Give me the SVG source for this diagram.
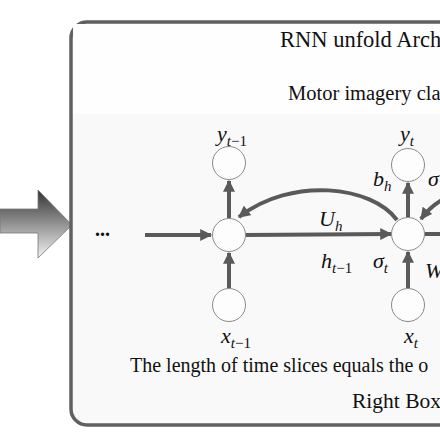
<svg xmlns="http://www.w3.org/2000/svg" width="440" height="440" viewBox="0 0 440 440">
<style>
.t{font-family:"Liberation Serif",serif;fill:#111;}
.m{font-family:"Liberation Serif",serif;font-style:italic;fill:#111;}
.s{font-size:15px;}
.n{fill:#fdfdfd;stroke:#8a8a8a;stroke-width:1;}
.c{fill:none;stroke:#5a5a5a;stroke-width:4;}
</style>
<defs>
<linearGradient id="bg" gradientUnits="userSpaceOnUse" x1="0" y1="190" x2="0" y2="258">
<stop offset="0" stop-color="#333"/>
<stop offset="1" stop-color="#f2f2f2"/>
</linearGradient>
<marker id="ah" viewBox="0 0 10 10" refX="9" refY="5" markerWidth="3.2" markerHeight="3" orient="auto" markerUnits="strokeWidth">
<path d="M0,0 L10,5 L0,10 Z" fill="#5a5a5a"/>
</marker>
</defs>
<rect width="440" height="440" fill="#fff"/>
<g id="bigarrow">
<polygon points="0,209 38,209 38,190 72,225 38,258 38,233 0,233" fill="url(#bg)" stroke="#777" stroke-width="0.8"/>
</g>
<g id="box">
<rect x="71" y="22" width="420" height="403" rx="16" fill="#f9f9f9" stroke="#606060" stroke-width="3.5"/>
<rect x="73" y="24" width="367" height="90" fill="#fefefe"/>
</g>
<g id="titles">
<text class="t" x="280" y="47" font-size="22.5">RNN unfold Arch</text>
<text class="t" x="288" y="100" font-size="20.5">Motor imagery cla</text>
<text class="t" x="130" y="372" font-size="20">The length of time slices equals the o</text>
<text class="t" x="352" y="408" font-size="21.5">Right Box</text>
<text class="t" x="95" y="236" font-size="20" font-weight="bold">...</text>
</g>
<g id="connectors">
<line class="c" x1="145" y1="235" x2="211" y2="235" marker-end="url(#ah)"/>
<line class="c" x1="246" y1="235" x2="391" y2="234" marker-end="url(#ah)"/>
<line class="c" x1="229" y1="288" x2="229" y2="253" marker-end="url(#ah)"/>
<line class="c" x1="229" y1="218" x2="229" y2="181" marker-end="url(#ah)"/>
<line class="c" x1="408" y1="288" x2="408" y2="252" marker-end="url(#ah)"/>
<line class="c" x1="408" y1="217" x2="408" y2="183" marker-end="url(#ah)"/>
<path class="c" d="M397,220 C372,186 292,176 239,217" marker-end="url(#ah)"/>
<path class="c" d="M442,200 Q430,207 421,219" marker-end="url(#ah)"/>
<line class="c" x1="425" y1="234" x2="442" y2="234"/>
</g>
<g id="node-y-prev"><circle class="n" cx="229" cy="163" r="16.5"/></g>
<g id="node-h-prev"><circle class="n" cx="229" cy="235" r="16.5"/></g>
<g id="node-x-prev"><circle class="n" cx="229" cy="305" r="16.5"/></g>
<g id="node-y"><circle class="n" cx="408" cy="165" r="16.5"/></g>
<g id="node-h"><circle class="n" cx="408" cy="234" r="16.5"/></g>
<g id="node-x"><circle class="n" cx="408" cy="305" r="16.5"/></g>
<g id="labels">
<text class="m" x="217" y="141" font-size="22">y<tspan class="s" dy="5">t</tspan><tspan class="s" font-style="normal">−1</tspan></text>
<text class="m" x="400" y="141" font-size="22">y<tspan class="s" dy="5">t</tspan></text>
<text class="m" x="221" y="343" font-size="22">x<tspan class="s" dy="5">t</tspan><tspan class="s" font-style="normal">−1</tspan></text>
<text class="m" x="404" y="343" font-size="22">x<tspan class="s" dy="5">t</tspan></text>
<text class="m" x="319" y="226" font-size="22">U<tspan class="s" dy="5">h</tspan></text>
<text class="m" x="321" y="268" font-size="22">h<tspan class="s" dy="5">t</tspan><tspan class="s" font-style="normal">−1</tspan></text>
<text class="m" x="373" y="268" font-size="22">σ<tspan class="s" dy="5">t</tspan></text>
<text class="m" x="373" y="186" font-size="22">b<tspan class="s" dy="5">h</tspan></text>
<text class="m" x="428" y="186" font-size="22">σ</text>
<text class="m" x="425" y="278" font-size="22">W</text>
</g>
</svg>
